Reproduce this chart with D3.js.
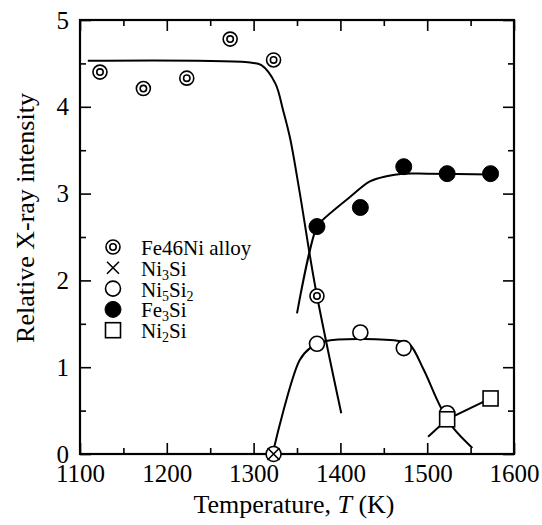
<!DOCTYPE html>
<html>
<head>
<meta charset="utf-8">
<script src="https://cdn.jsdelivr.net/npm/d3@7"></script>
<style>
  html, body { margin: 0; padding: 0; background: #fff; }
  svg text { font-family: "Liberation Serif", "Times New Roman", Times, "DejaVu Serif", serif; }
</style>
</head>
<body>
<svg id="chart" width="542" height="525"></svg>
<script>
// ---- data ----
const xTicksMajor = [1100, 1200, 1300, 1400, 1500, 1600];
const xTicksMinor = [1150, 1250, 1350, 1450, 1550];
const yTicksMajor = [0, 1, 2, 3, 4, 5];
const yTicksMinor = [0.5, 1.5, 2.5, 3.5, 4.5];

const fe46niT = [1123, 1173, 1223, 1273, 1323, 1373];
const fe46niV = [4.40, 4.21, 4.33, 4.78, 4.54, 1.82];
const ni3siT = [1323];
const ni3siV = [0];
const ni5si2T = [1323, 1373, 1423, 1473, 1523];
const ni5si2V = [0, 1.27, 1.40, 1.22, 0.47];
const fe3siT = [1373, 1423, 1473, 1523, 1573];
const fe3siV = [2.62, 2.84, 3.31, 3.23, 3.23];
const ni2siT = [1523, 1573];
const ni2siV = [0.40, 0.64];

// hand-drawn trend curves
const fe46niCurveT = [1109, 1296, 1309, 1325, 1334, 1342, 1353, 1371, 1401];
const fe46niCurveV = [4.53, 4.51, 4.48, 4.27, 3.96, 3.64, 3.02, 1.93, 0.47];
const fe3siCurveT = [1350, 1373, 1380, 1411, 1434, 1453, 1472, 1500, 1573];
const fe3siCurveV = [1.62, 2.62, 2.70, 2.96, 3.14, 3.20, 3.23, 3.23, 3.22];
const ni5si2CurveT = [1323, 1353, 1365, 1382, 1469, 1480, 1496, 1515, 1530, 1552];
const ni5si2CurveV = [0.05, 1.08, 1.22, 1.30, 1.30, 1.26, 0.97, 0.55, 0.30, 0.07];
const ni2siLineT = [1501, 1523, 1573];
const ni2siLineV = [0.20, 0.40, 0.64];

const legendLabels = [
  [["Fe46Ni alloy", false]],
  [["Ni", false], ["3", true], ["Si", false]],
  [["Ni", false], ["5", true], ["Si", false], ["2", true]],
  [["Fe", false], ["3", true], ["Si", false]],
  [["Ni", false], ["2", true], ["Si", false]]
];
const legendKinds = ["double", "cross", "open", "filled", "square"];

// ---- drawing ----
const FONT = '"Liberation Serif", "Times New Roman", Times, "DejaVu Serif", serif';
const svg = d3.select("#chart");
const L = 80, R = 514, T = 20, B = 454;
const x = d3.scaleLinear().domain([1100, 1600]).range([L, R]);
const y = d3.scaleLinear().domain([0, 5]).range([B, T]);

const zip = (a, b) => a.map((d, i) => [d, b[i]]);

function styleAxis(g, fs) {
  g.attr("font-family", null);
  g.select(".domain").remove();
  g.selectAll(".tick line").attr("stroke", "#000").attr("stroke-width", 1.6);
  g.selectAll(".tick text").attr("fill", "#000").attr("font-size", fs)
    .style("font-family", FONT);
}

// minor ticks
svg.append("g").attr("transform", `translate(0,${B})`)
  .call(d3.axisBottom(x).tickValues(xTicksMinor).tickSize(-6).tickFormat(""))
  .call(g => styleAxis(g, 0));
svg.append("g").attr("transform", `translate(0,${T})`)
  .call(d3.axisTop(x).tickValues(xTicksMinor).tickSize(-6).tickFormat(""))
  .call(g => styleAxis(g, 0));
svg.append("g").attr("transform", `translate(${L},0)`)
  .call(d3.axisLeft(y).tickValues(yTicksMinor).tickSize(-6).tickFormat(""))
  .call(g => styleAxis(g, 0));
svg.append("g").attr("transform", `translate(${R},0)`)
  .call(d3.axisRight(y).tickValues(yTicksMinor).tickSize(-6).tickFormat(""))
  .call(g => styleAxis(g, 0));

// major ticks
svg.append("g").attr("transform", `translate(0,${B})`)
  .call(d3.axisBottom(x).tickValues(xTicksMajor).tickSize(-11).tickPadding(10).tickFormat(d3.format("d")))
  .call(g => styleAxis(g, 25));
svg.append("g").attr("transform", `translate(0,${T})`)
  .call(d3.axisTop(x).tickValues(xTicksMajor).tickSize(-11).tickFormat(""))
  .call(g => styleAxis(g, 0));
svg.append("g").attr("transform", `translate(${L},0)`)
  .call(d3.axisLeft(y).tickValues(yTicksMajor).tickSize(-11).tickPadding(11).tickFormat(d3.format("d")))
  .call(g => styleAxis(g, 25));
svg.append("g").attr("transform", `translate(${R},0)`)
  .call(d3.axisRight(y).tickValues(yTicksMajor).tickSize(-11).tickFormat(""))
  .call(g => styleAxis(g, 0));

// frame
svg.append("rect").attr("x", L).attr("y", T).attr("width", R - L).attr("height", B - T)
  .attr("fill", "none").attr("stroke", "#000").attr("stroke-width", 2.2);

// axis titles
const xt = svg.append("text").attr("x", 294).attr("y", 513).attr("text-anchor", "middle")
  .attr("font-size", 26).attr("fill", "#000").style("font-family", FONT);
xt.append("tspan").text("Temperature, ");
xt.append("tspan").attr("font-style", "italic").text("T");
xt.append("tspan").text(" (K)");

svg.append("text").attr("transform", "translate(34,218) rotate(-90)")
  .attr("text-anchor", "middle").attr("font-size", 26).attr("fill", "#000")
  .style("font-family", FONT)
  .text("Relative X-ray intensity");

// curves
const smooth = d3.line().x(d => x(d[0])).y(d => y(d[1])).curve(d3.curveCatmullRom.alpha(0.5));
const straight = d3.line().x(d => x(d[0])).y(d => y(d[1]));
const curveG = svg.append("g").attr("fill", "none").attr("stroke", "#000").attr("stroke-width", 2);
curveG.append("path").attr("d", smooth(zip(fe46niCurveT, fe46niCurveV)));
curveG.append("path").attr("d", smooth(zip(fe3siCurveT, fe3siCurveV)));
curveG.append("path").attr("d", smooth(zip(ni5si2CurveT, ni5si2CurveV)));
curveG.append("path").attr("d", straight(zip(ni2siLineT, ni2siLineV)));

// marker drawing
function drawMarker(g, kind, cx, cy) {
  if (kind === "double") {
    g.append("circle").attr("cx", cx).attr("cy", cy).attr("r", 7)
      .attr("fill", "#fff").attr("stroke", "#000").attr("stroke-width", 1.6);
    g.append("circle").attr("cx", cx).attr("cy", cy).attr("r", 3.2)
      .attr("fill", "none").attr("stroke", "#000").attr("stroke-width", 1.6);
  } else if (kind === "open") {
    g.append("circle").attr("cx", cx).attr("cy", cy).attr("r", 7.5)
      .attr("fill", "#fff").attr("stroke", "#000").attr("stroke-width", 1.6);
  } else if (kind === "filled") {
    g.append("circle").attr("cx", cx).attr("cy", cy).attr("r", 8)
      .attr("fill", "#000").attr("stroke", "#000").attr("stroke-width", 1);
  } else if (kind === "square") {
    g.append("rect").attr("x", cx - 7.5).attr("y", cy - 7.5).attr("width", 15).attr("height", 15)
      .attr("fill", "#fff").attr("stroke", "#000").attr("stroke-width", 1.6);
  } else if (kind === "cross") {
    const s = 6;
    g.append("path").attr("d", `M${cx - s},${cy - s}L${cx + s},${cy + s}M${cx - s},${cy + s}L${cx + s},${cy - s}`)
      .attr("stroke", "#000").attr("stroke-width", 1.6).attr("fill", "none");
  }
}

const mk = svg.append("g");
fe46niT.forEach((t, i) => drawMarker(mk, "double", x(t), y(fe46niV[i])));
fe3siT.forEach((t, i) => drawMarker(mk, "filled", x(t), y(fe3siV[i])));
ni5si2T.forEach((t, i) => drawMarker(mk, "open", x(t), y(ni5si2V[i])));
ni3siT.forEach((t, i) => drawMarker(mk, "cross", x(t), y(ni3siV[i])));
ni2siT.forEach((t, i) => drawMarker(mk, "square", x(t), y(ni2siV[i])));

// legend: each text piece placed after the previous one
const lg = svg.append("g");
const legY0 = 247, legDy = 20.8;
legendKinds.forEach((k, i) => {
  const cy = legY0 + i * legDy;
  drawMarker(lg, k, 113, cy);
  let cx = 141;
  legendLabels[i].forEach(([s, sub]) => {
    const t = lg.append("text").attr("x", cx).attr("y", cy + 8 + (sub ? 4 : 0))
      .attr("font-size", sub ? 14 : 21).attr("fill", "#000")
      .style("font-family", FONT).text(s);
    cx += t.node().getComputedTextLength();
  });
});
</script>
</body>
</html>
